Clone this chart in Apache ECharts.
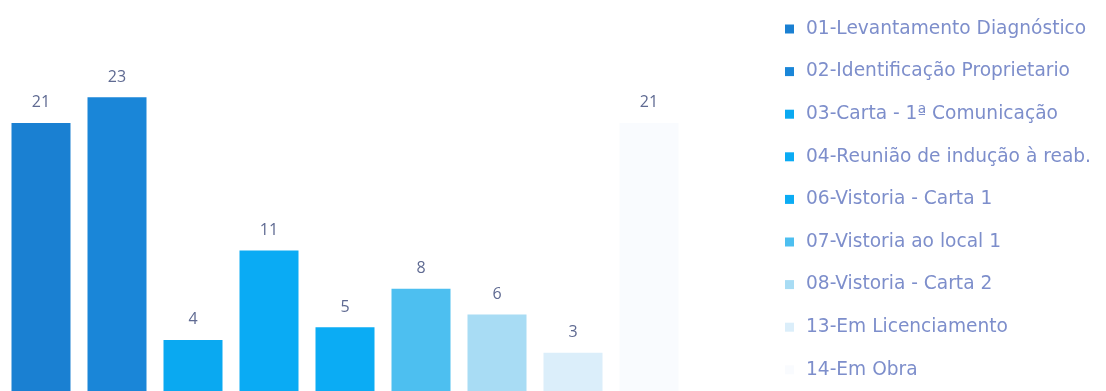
<!DOCTYPE html>
<html>
<head>
<meta charset="utf-8">
<style>
  html, body { margin: 0; padding: 0; background: #ffffff; }
  #chart { width: 1106px; height: 391px; }
</style>
<script src="https://cdn.jsdelivr.net/npm/echarts@6/dist/echarts.min.js"></script>
</head>
<body>
<div id="chart"></div>
<script>
// Stages of the rehabilitation process and the number of cases in each
const categories = [
  '01-Levantamento Diagnóstico',
  '02-Identificação Proprietario',
  '03-Carta - 1ª Comunicação',
  '04-Reunião de indução à reab.',
  '06-Vistoria - Carta 1',
  '07-Vistoria ao local 1',
  '08-Vistoria - Carta 2',
  '13-Em Licenciamento',
  '14-Em Obra'
];
const counts = [21, 23, 4, 11, 5, 8, 6, 3, 21];
const colors = ['#1a80d2', '#1a86d8', '#0aa9f1', '#0aabf4', '#0bacf4', '#4dbff0', '#a8dcf4', '#dbeefa', '#f9fbfe'];

// One series per stage so every stage gets its own legend entry;
// all share a stack so each bar sits centred in its own slot.
const series = categories.map((name, i) => ({
  name: name,
  type: 'bar',
  stack: 'stages',
  barWidth: 59,
  itemStyle: { color: colors[i] },
  label: {
    show: true,
    position: 'top',
    distance: 12,
    color: '#5f6a92',
    fontFamily: 'Open Sans',
    fontSize: 16
  },
  data: categories.map((_, j) => (j === i ? counts[i] : '-'))
}));

const chart = echarts.init(document.getElementById('chart'));
chart.setOption({
  animation: false,
  color: colors,
  grid: { left: 3, top: 8, width: 684, height: 387, containLabel: false },
  xAxis: {
    type: 'category',
    data: categories,
    show: false
  },
  yAxis: {
    type: 'value',
    min: 0,
    max: 30,
    show: false
  },
  legend: {
    orient: 'vertical',
    left: 780,
    top: 14,
    icon: 'rect',
    itemWidth: 9,
    itemHeight: 9,
    itemGap: 22.6,
    textStyle: {
      color: '#7d8ecb',
      fontFamily: 'DejaVu Sans',
      fontSize: 18.6,
      lineHeight: 20,
      padding: [0, 0, 0, 7]
    },
    data: categories
  },
  series: series
});
</script>
</body>
</html>
